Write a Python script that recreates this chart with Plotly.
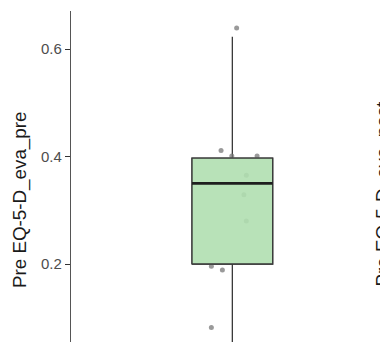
import plotly.graph_objects as go

# Box summary for the pre-treatment EQ-5-D scores
group = ["Pre"]
q1 = [0.200]
median = [0.350]
q3 = [0.397]
upper_fence = [0.623]
lower_fence = [0.030]

# Jittered individual observations
jit_x = [1.016, 0.958, 0.998, 1.092, 1.052, 1.043, 1.052, 0.922, 0.963, 0.922]
jit_y = [0.639, 0.411, 0.401, 0.401, 0.365, 0.329, 0.280, 0.196, 0.189, 0.082]

y_ticks = [0.2, 0.4, 0.6]
y_title = "Pre EQ-5-D_eva_pre"
next_title = "Pre EQ-5-D_eva_post"

box_pos = 1.0
box_width = 0.3
font = "Liberation Sans, Arial, sans-serif"
edge = "#3a3a3a"

fig = go.Figure()

# whiskers (and outline) from the box trace; drawn in the lowest layer
fig.add_trace(go.Box(
    x=[box_pos], q1=q1, median=median, q3=q3,
    lowerfence=lower_fence, upperfence=upper_fence,
    width=box_width, whiskerwidth=0,
    fillcolor="rgba(0,0,0,0)",
    line=dict(color=edge, width=1.3),
    boxpoints=False, showlegend=False,
))

# jittered points
fig.add_trace(go.Scatter(
    x=jit_x, y=jit_y, mode="markers",
    marker=dict(size=5, color="rgba(120,120,120,0.75)", line=dict(width=0)),
    hoverinfo="skip", showlegend=False,
))

# translucent box body on top of the points
x0, x1 = box_pos - box_width / 2, box_pos + box_width / 2
fig.add_trace(go.Scatter(
    x=[x0, x1, x1, x0, x0], y=[q1[0], q1[0], q3[0], q3[0], q1[0]],
    mode="lines", fill="toself", fillcolor="rgba(176,223,176,0.9)",
    line=dict(color=edge, width=1.3),
    hoverinfo="skip", showlegend=False,
))

# thicker median bar
fig.add_trace(go.Scatter(
    x=[x0, x1], y=[median[0], median[0]], mode="lines",
    line=dict(color="#1e1e1e", width=2.6),
    hoverinfo="skip", showlegend=False,
))

W, H = 380, 342
L, T = 71, 11
pw, ph = W - L, H - T


def px_x(p):
    return (p - L) / pw


def px_y(p):
    return (H - p) / ph


fig.add_annotation(
    text=y_title, textangle=-90, xref="paper", yref="paper",
    x=px_x(20), y=px_y(200), xanchor="center", yanchor="middle",
    showarrow=False, font=dict(family=font, size=18.8, color="#1a1a1a"),
)
fig.add_annotation(
    text=next_title, textangle=-90, xref="paper", yref="paper",
    x=px_x(382), y=px_y(193.5), xanchor="center", yanchor="middle",
    showarrow=False, font=dict(family=font, size=18.8, color="#1a1a1a"),
)

fig.update_layout(
    width=W, height=H,
    margin=dict(l=L, r=0, t=T, b=0, pad=0),
    paper_bgcolor="white", plot_bgcolor="white",
    font=dict(family=font),
)
fig.update_xaxes(
    range=[0.4, 0.4 + pw / 268.9], showgrid=False, zeroline=False,
    showticklabels=False, ticks="", showline=False,
)
fig.update_yaxes(
    range=[(371.5 - H) / 537.5, (371.5 - T) / 537.5],
    tickvals=y_ticks, ticktext=[f"{v:.1f}" for v in y_ticks],
    showgrid=False, zeroline=False,
    showline=True, linecolor="#555555", linewidth=1.2,
    ticks="outside", ticklen=5, tickwidth=1.2, tickcolor="#333333",
    tickfont=dict(family=font, size=15, color="#4d4d4d"),
)

fig.write_html("out.html")
